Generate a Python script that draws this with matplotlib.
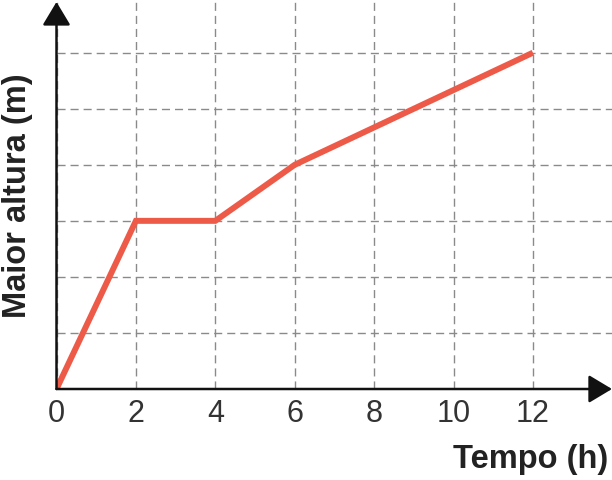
import matplotlib.pyplot as plt

# data
tempo = [0, 2, 4, 6, 12]
altura = [0, 3, 3, 4, 6]
x_ticks = [0, 2, 4, 6, 8, 10, 12]
y_grid = [1, 2, 3, 4, 5, 6]

plt.rcParams['font.family'] = ['Liberation Sans', 'DejaVu Sans']

W, H = 612, 480
fig = plt.figure(figsize=(W / 100, H / 100), dpi=100)
# origin of the axes sits at (56.5, 389) px from the top left corner
ax = fig.add_axes([56.5 / W, (H - 389) / H, (W - 56.5) / W, 389 / H])

ax.set_xlim(0, (W - 56.5) / 39.7)
ax.set_ylim(0, 389 / 56.05)

ax.plot(tempo, altura, color='#ee5a48', lw=4.3, solid_joinstyle='miter',
        solid_capstyle='butt', zorder=3)

for s in ax.spines.values():
    s.set_visible(False)

ax.set_xticks(x_ticks)
ax.set_xticklabels([str(t) for t in x_ticks])
ax.set_yticks(y_grid)
ax.set_yticklabels([])
ax.tick_params(length=0, pad=7, labelsize=22, labelcolor='#333333')
ax.grid(True, color='#8a8a8a', lw=1.0, linestyle=(0, (5.8, 3.6)))

# axes with arrow heads
arrow = dict(arrowstyle='-|>,head_length=0.4,head_width=0.24',
             color='#111111', lw=1.8, mutation_scale=36,
             shrinkA=0, shrinkB=0)
ax.annotate('', xy=(1.0, 0), xytext=(0, 0), xycoords='axes fraction',
            arrowprops=arrow, annotation_clip=False, zorder=4)
ax.annotate('', xy=(0, 0.995), xytext=(0, 0), xycoords='axes fraction',
            arrowprops=arrow, annotation_clip=False, zorder=4)

fig.text(608 / W, 1 - 468 / H, 'Tempo (h)', ha='right', va='baseline',
         fontsize=23.5, fontweight='bold', color='#222222')
fig.text(18 / W, 1 - 196 / H, 'Maior altura (m)', ha='center',
         va='center', rotation=90, fontsize=23.5, fontweight='bold',
         color='#222222')

plt.savefig('out.png', dpi=100)
plt.close()
